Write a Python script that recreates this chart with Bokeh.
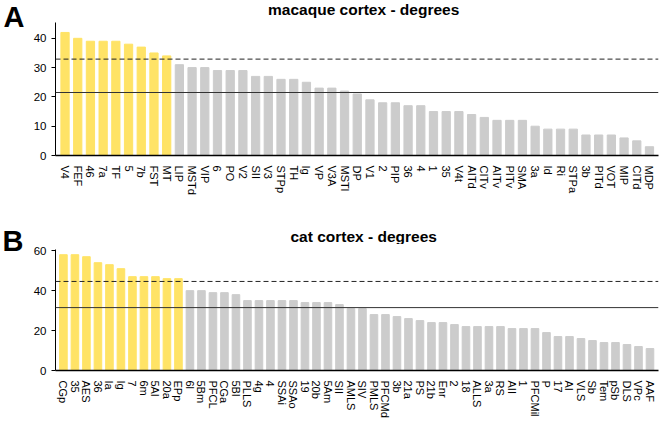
from bokeh.plotting import figure
from bokeh.models import Range1d, FixedTicker, Span, ColumnDataSource
from bokeh.layouts import column, row
from bokeh.core.properties import value
from bokeh.embed import file_html
from bokeh.resources import INLINE

# ---------------- data ----------------
mac_labels = ["V4", "FEF", "46", "7a", "TF", "5", "7b", "FST", "MT", "LIP", "MSTd", "VIP",
              "6", "PO", "V2", "SII", "V3", "STPp", "TH", "Ig", "VP", "V3A", "MSTl", "DP",
              "V1", "2", "PIP", "36", "4", "1", "35", "V4t", "AITd", "CITv", "AITv", "PITv",
              "SMA", "3a", "Id", "Ri", "STPa", "3b", "PITd", "VOT", "MIP", "CITd", "MDP"]
mac_values = [42, 40, 39, 39, 39, 38, 37, 35, 34, 31, 30, 30,
              29, 29, 29, 27, 27, 26, 26, 25, 23, 23, 22, 21,
              19, 18, 18, 17, 17, 15, 15, 15, 14, 13, 12, 12,
              12, 10, 9, 9, 9, 7, 7, 7, 6, 5, 3]
mac_n_hubs = 9
mac_mean = 21.5
mac_mean_sd = 32.9
mac_yticks = [0, 10, 20, 30, 40]

cat_labels = ["CGp", "35", "AES", "36", "Ia", "Ig", "7", "6m", "5Al", "20a", "EPp", "6l",
              "5Bm", "PFCL", "CGa", "5Bl", "PLLS", "4g", "4", "SSAi", "SSAo", "19", "20b",
              "5Am", "SII", "AMLS", "SIV", "PMLS", "PFCMd", "3b", "21a", "PS", "21b", "Enr",
              "2", "18", "ALLS", "3a", "RS", "AII", "1", "PFCMil", "P", "17", "AI", "VLS",
              "Sb", "Tem", "pSb", "DLS", "VPc", "AAF"]
cat_values = [58, 58, 57, 54, 53, 51, 47, 47, 47, 46, 46, 40,
              40, 39, 39, 38, 35, 35, 35, 35, 35, 34, 34,
              34, 33, 31, 31, 28, 28, 27, 26, 25, 24, 24,
              23, 22, 22, 22, 22, 21, 21, 21, 19, 17, 17, 16,
              15, 14, 14, 13, 12, 11]
cat_n_hubs = 11
cat_mean = 31.5
cat_mean_sd = 44.6
cat_yticks = [0, 20, 40, 60]

YELLOW = "#FFE366"
GRAY = "#CCCCCC"
FONT = "Liberation Sans"
LETTER_W = 30
WIDTH = 661 - LETTER_W


def text_fig(width, height, txt, x, y, size, align):
    f = figure(width=width, height=height, output_backend="svg", toolbar_location=None,
               x_range=Range1d(0, width), y_range=Range1d(height, 0), title=None,
               min_border=0, x_axis_type=None, y_axis_type=None)
    f.outline_line_color = None
    f.grid.visible = False
    f.text(x=[x], y=[y], text=[txt], text_font=value(FONT),
           text_font_size=size, text_font_style="bold", text_align=align,
           text_baseline="alphabetic", text_color="black")
    return f


def make_panel(labels, values, n_hubs, mean, mean_sd, yticks, ymax, xpad, barw,
               height, border_top, border_bottom):
    n = len(labels)
    colors = [YELLOW if i < n_hubs else GRAY for i in range(n)]
    src = ColumnDataSource(dict(x=list(range(n)), top=values, color=colors))
    p = figure(width=WIDTH, height=height, output_backend="svg", toolbar_location=None,
               x_range=Range1d(-xpad[0], n - 1 + xpad[1]), y_range=Range1d(0, ymax),
               title=None, min_border_left=54 - LETTER_W, min_border_right=3,
               min_border_top=border_top, min_border_bottom=border_bottom)
    p.outline_line_color = None
    p.grid.visible = False
    p.vbar(x="x", top="top", width=barw, color="color", source=src)

    p.add_layout(Span(location=mean_sd, dimension="width", line_color="#222222",
                      line_width=1, line_dash="5 3"))
    p.add_layout(Span(location=mean, dimension="width", line_color="#333333",
                      line_width=1))

    xa = p.xaxis[0]
    xa.ticker = FixedTicker(ticks=list(range(n)))
    xa.major_label_overrides = {i: lab for i, lab in enumerate(labels)}
    xa.major_label_orientation = "vertical"
    xa.major_tick_line_color = None
    xa.major_tick_out = 0
    xa.major_tick_in = 0
    xa.minor_tick_line_color = None
    xa.axis_line_color = "black"
    xa.axis_line_width = 1.5
    xa.major_label_text_font = FONT
    xa.major_label_text_font_size = "11px"
    xa.major_label_text_color = "black"
    xa.major_label_standoff = 10

    ya = p.yaxis[0]
    ya.ticker = FixedTicker(ticks=yticks)
    ya.major_tick_out = 4
    ya.major_tick_in = 0
    ya.minor_tick_line_color = None
    ya.axis_line_color = "black"
    ya.major_tick_line_color = "black"
    ya.major_label_text_font = FONT
    ya.major_label_text_font_size = "11.5px"
    ya.major_label_text_color = "black"
    ya.major_label_standoff = 5
    return p


# panel A (page rows 0-200)
ha = text_fig(WIDTH, 20, "macaque cortex - degrees", 322.5, 8.5, "15.5px", "center")
pa = make_panel(mac_labels, mac_values, mac_n_hubs, mac_mean, mac_mean_sd, mac_yticks, 45.4,
                (0.75, 0.71), 0.65, 180, 2, 45)
la = text_fig(LETTER_W, 200, "A", 3, 16, "29px", "left")

# panel B (page rows 200-421)
hb = text_fig(WIDTH, 44, "cat cortex - degrees", 322.5, 36, "15.5px", "center")
pb = make_panel(cat_labels, cat_values, cat_n_hubs, cat_mean, cat_mean_sd, cat_yticks, 60.6,
                (0.69, 0.74), 0.66, 177, 5, 51)
lb = text_fig(LETTER_W, 221, "B", 2, 40, "29px", "left")

layout = column(row(la, column(ha, pa, spacing=0), spacing=0),
                row(lb, column(hb, pb, spacing=0), spacing=0), spacing=0)
open("out.html", "w").write(file_html(layout, INLINE))
